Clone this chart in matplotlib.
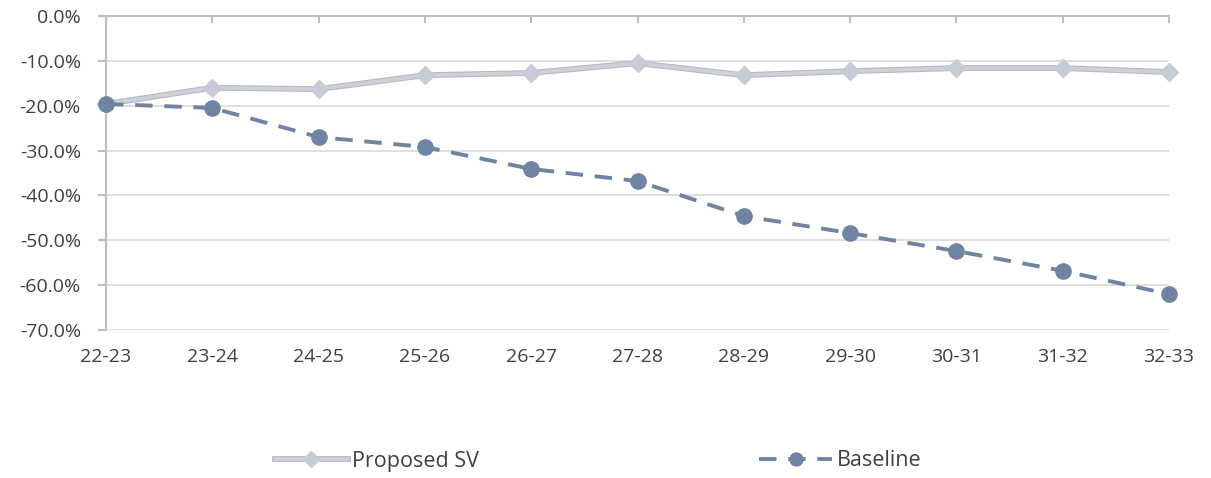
import matplotlib
matplotlib.use("Agg")
import matplotlib.pyplot as plt
import matplotlib.patheffects as pe
from matplotlib.ticker import FuncFormatter

categories = ["22-23", "23-24", "24-25", "25-26", "26-27", "27-28",
              "28-29", "29-30", "30-31", "31-32", "32-33"]
proposed_sv = [-19.6, -16.0, -16.3, -13.2, -12.7, -10.5, -13.2, -12.3, -11.6, -11.6, -12.5]
baseline = [-19.6, -20.5, -27.0, -29.2, -34.1, -36.8, -44.6, -48.4, -52.4, -56.8, -62.0]
yticks = [0, -10, -20, -30, -40, -50, -60, -70]

plt.rcParams['font.family'] = ['Open Sans', 'DejaVu Sans']

fig = plt.figure(figsize=(12.11, 4.78), dpi=100)
ax = fig.add_axes([106/1211, 1-330/478, (1169-106)/1211, (330-16)/478])

x = list(range(len(categories)))
grid_c = "#d9d9d9"
axis_c = "#b8bfca"
text_c = "#404040"

for v in yticks:
    ax.axhline(v, color=grid_c, lw=1.2, zorder=0)

l1a, = ax.plot(x, proposed_sv, color="#cdd2da", lw=2.6, zorder=3, clip_on=False,
               path_effects=[pe.Stroke(linewidth=4.2, foreground="#b3bac4"), pe.Normal()])
l1b, = ax.plot(x, proposed_sv, ls="none", marker="D", markersize=9,
               markerfacecolor="#c6ccd5", markeredgecolor="#c6ccd5", zorder=3.5,
               clip_on=False)
l2, = ax.plot(x, baseline, color="#6f84a3", lw=2.8, ls=(0, (4.5, 3)), marker="o",
              markersize=11, markerfacecolor="#6f84a3", markeredgecolor="#6f84a3",
              zorder=4, clip_on=False)

ax.set_xlim(0, 10)
ax.set_ylim(-70, 0)
ax.set_yticks(yticks)
ax.yaxis.set_major_formatter(FuncFormatter(lambda v, p: f"{v:.1f}%"))
ax.set_xticks(x)
ax.set_xticklabels(categories)

for s in ["right", "bottom"]:
    ax.spines[s].set_visible(False)
ax.spines["left"].set_color(axis_c)
ax.spines["left"].set_linewidth(1.5)
ax.spines["top"].set_color(axis_c)
ax.spines["top"].set_linewidth(1.5)

ax.tick_params(axis="y", direction="out", length=6, color=axis_c, width=1.5,
               labelsize=14, labelcolor=text_c, pad=12)
ax.tick_params(axis="x", direction="in", length=5, color=axis_c, width=1.5,
               labelsize=14, labelcolor=text_c, pad=13, top=True, bottom=False)

leg = fig.legend(handles=[(l1a, l1b), l2], labels=["Proposed SV", "Baseline"],
                 loc="center", bbox_to_anchor=(598/1211, 1-461/478),
                 ncol=2, frameon=False, fontsize=15.5, columnspacing=13,
                 handlelength=3.4, handletextpad=0.2, labelcolor=text_c,
                 markerscale=0.85)

fig.savefig("out.png", dpi=100, facecolor="white")
